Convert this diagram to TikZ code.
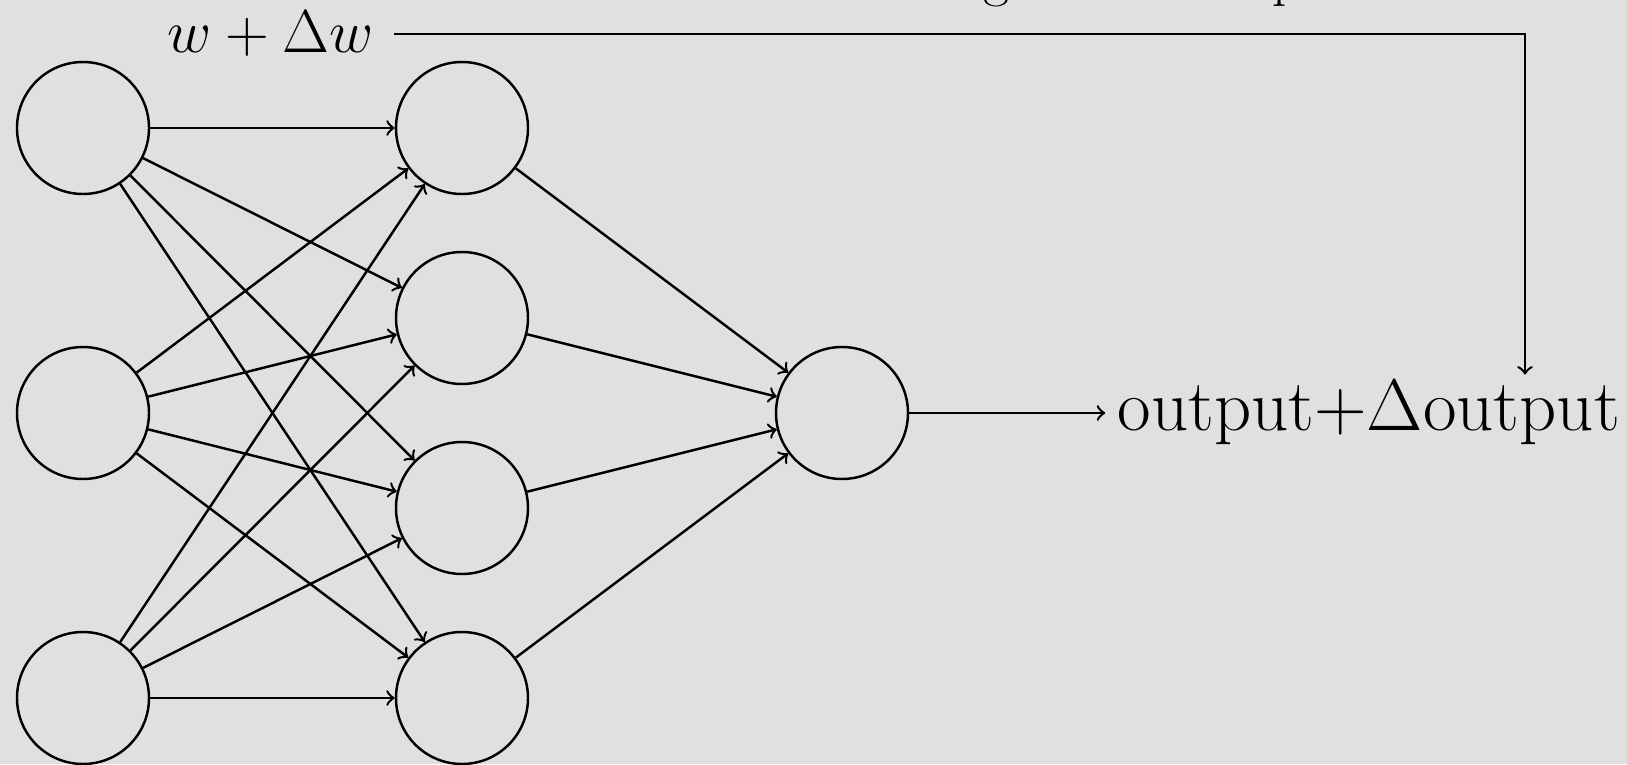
\documentclass[tikz,border=0pt]{standalone}
\usetikzlibrary{positioning}
\tikzstyle{neuron}=[draw, circle, line width=0.7pt, minimum size=13.2mm, inner sep=0pt]
\tikzstyle{link}=[->, line width=0.7pt]
\tikzstyle{big}=[font=\fontsize{20.74}{25}\selectfont]
\tikzstyle{mid}=[font=\fontsize{16}{19}\selectfont]
\definecolor{bgray}{RGB}{224,224,224}
\begin{document}
\begin{tikzpicture}
\clip (0,0) rectangle (16.27,7.64);
\fill[bgray] (0,0) rectangle (16.27,7.64);

\node (i1) at (0.83,6.36) [neuron] {};
\node (i2) at ([yshift=-28.5mm]i1) [neuron] {};
\node (i3) at ([yshift=-57mm]i1) [neuron] {};

\node (h1) at ([xshift=37.9mm]i1) [neuron] {};
\node (h2) at ([yshift=-19mm]h1) [neuron] {};
\node (h3) at ([yshift=-38mm]h1) [neuron] {};
\node (h4) at ([yshift=-57mm]h1) [neuron] {};

\node (out) at ([xshift=75.9mm]i2) [neuron] {};
\node (result) [big, right=19.6mm of out] {output+$\Delta$output};

\node (wdw) [mid, anchor=east] at (3.86,7.30) {$w+\Delta w$};
\coordinate (turn) at (15.25,7.30);
\node (note) [mid, anchor=base] at (9.47,7.69) {causes a small change in the output};

% input layer to hidden layer
\draw[link] (i1) -- (h1);
\draw[link] (i1) -- (h2);
\draw[link] (i1) -- (h3);
\draw[link] (i1) -- (h4);
\draw[link] (i2) -- (h1);
\draw[link] (i2) -- (h2);
\draw[link] (i2) -- (h3);
\draw[link] (i2) -- (h4);
\draw[link] (i3) -- (h1);
\draw[link] (i3) -- (h2);
\draw[link] (i3) -- (h3);
\draw[link] (i3) -- (h4);

% hidden layer to output
\draw[link] (h1) -- (out);
\draw[link] (h2) -- (out);
\draw[link] (h3) -- (out);
\draw[link] (h4) -- (out);
\draw[link] (out) -- (result);

\draw[link, shorten <=0.8mm, shorten >=-0.6mm] (wdw.east) -- (turn) -- (turn |- result.north);

\end{tikzpicture}
\end{document}
